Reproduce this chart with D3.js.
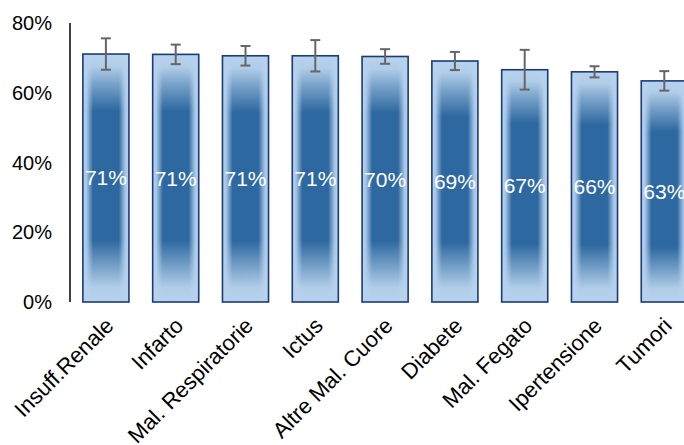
<!DOCTYPE html>
<html>
<head>
<meta charset="utf-8">
<script src="https://cdn.jsdelivr.net/npm/d3@7"></script>
<style>
  body { margin: 0; background: #fff; }
  svg { display: block; font-family: "Liberation Sans", Arial, sans-serif; }
</style>
</head>
<body>
<div id="chart"></div>
<script>
// dati
const categories = ["Insuff.Renale", "Infarto", "Mal. Respiratorie", "Ictus", "Altre Mal. Cuore",
  "Diabete", "Mal. Fegato", "Ipertensione", "Tumori"];
const values = [71.1, 71.0, 70.6, 70.6, 70.4, 69.1, 66.6, 66.0, 63.4];
const errors = [4.5, 2.8, 2.8, 4.5, 2.1, 2.6, 5.7, 1.6, 2.8];
const yTicks = [0, 20, 40, 60, 80];

const width = 684, height = 445;
const svg = d3.select("#chart").append("svg")
  .attr("width", width).attr("height", height);

const x = d3.scaleBand().domain(categories)
  .range([71, 71 + 9 * 69.8]).paddingInner(0.34).paddingOuter(0.17);
const y = d3.scaleLinear().domain([0, 80]).range([302, 23]);

// gradienti delle barre
const defs = svg.append("defs");
const light = "#b7d2ec", dark = "#2d68a0";

const gh = defs.append("linearGradient").attr("id", "gh")
  .attr("x1", 0).attr("y1", 0).attr("x2", 1).attr("y2", 0);
[[0, light], [0.08, "#a6c6e6"], [0.22, dark], [0.78, dark], [0.92, "#a6c6e6"], [1, light]]
  .forEach(([o, c]) => gh.append("stop").attr("offset", o).attr("stop-color", c));

const gv = defs.append("linearGradient").attr("id", "gv")
  .attr("x1", 0).attr("y1", 0).attr("x2", 0).attr("y2", 1);
[[0, 1], [0.05, 0.95], [0.12, 0.55], [0.23, 0], [0.75, 0], [0.86, 0.55], [0.94, 0.95], [1, 1]]
  .forEach(([o, a]) => gv.append("stop").attr("offset", o)
    .attr("stop-color", light).attr("stop-opacity", a));

const bars = svg.append("g").selectAll("g")
  .data(categories).join("g");

bars.append("rect")
  .attr("x", d => x(d)).attr("width", x.bandwidth())
  .attr("y", (d, i) => y(values[i])).attr("height", (d, i) => y(0) - y(values[i]))
  .attr("fill", "url(#gh)");

bars.append("rect")
  .attr("x", d => x(d)).attr("width", x.bandwidth())
  .attr("y", (d, i) => y(values[i])).attr("height", (d, i) => y(0) - y(values[i]))
  .attr("fill", "url(#gv)")
  .attr("stroke", "#1b3a7c").attr("stroke-width", 1.6);

// barre di errore
const err = svg.append("g").attr("stroke", "#666").attr("stroke-width", 2);
categories.forEach((c, i) => {
  const cx = x(c) + x.bandwidth() / 2;
  const top = y(values[i] + errors[i]), bot = y(values[i] - errors[i]);
  err.append("line").attr("x1", cx).attr("x2", cx).attr("y1", top).attr("y2", bot);
  err.append("line").attr("x1", cx - 5).attr("x2", cx + 5).attr("y1", top).attr("y2", top);
  err.append("line").attr("x1", cx - 5).attr("x2", cx + 5).attr("y1", bot).attr("y2", bot);
});

// etichette valori
bars.append("text")
  .attr("x", d => x(d) + x.bandwidth() / 2)
  .attr("y", (d, i) => y(values[i] / 2))
  .attr("dy", "0.35em")
  .attr("text-anchor", "middle")
  .attr("fill", "#fff")
  .attr("font-size", "21px")
  .text((d, i) => Math.round(values[i]) + "%");

// asse y
svg.append("line").attr("x1", 70).attr("x2", 70).attr("y1", 23).attr("y2", 302)
  .attr("stroke", "#000").attr("stroke-width", 1.5);
svg.append("g").selectAll("text").data(yTicks).join("text")
  .attr("x", 52).attr("y", d => y(d)).attr("dy", "0.35em")
  .attr("text-anchor", "end").attr("font-size", "20px").attr("fill", "#000")
  .text(d => d + "%");

// etichette categorie
svg.append("g").selectAll("text").data(categories).join("text")
  .attr("transform", d => `translate(${x(d) + x.bandwidth() / 2 + 9},327) rotate(-45)`)
  .attr("text-anchor", "end").attr("font-size", "22px").attr("fill", "#000")
  .text(d => d);
</script>
</body>
</html>
